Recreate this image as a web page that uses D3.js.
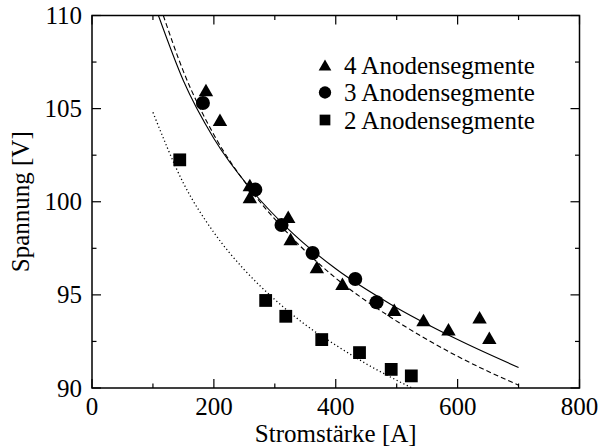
<!DOCTYPE html>
<html>
<head>
<meta charset="utf-8">
<script src="https://cdn.jsdelivr.net/npm/d3@7"></script>
<style>
  html, body { margin: 0; padding: 0; background: #fff; }
  svg { display: block; }
  text { font-family: "Liberation Serif", "Times New Roman", serif; fill: #000; }
</style>
</head>
<body>
<svg id="chart" width="605" height="448"></svg>
<script>
// Measured points: current I [A] and voltage U [V]
const seg4I = [187, 210, 259, 259, 322, 326, 369, 411, 496, 544, 585, 636, 652];
const seg4U = [106.0, 104.4, 100.9, 100.25, 99.2, 98.0, 96.5, 95.6, 94.2, 93.65, 93.15, 93.8, 92.7];
const seg3I = [182, 268, 311, 362, 432, 467];
const seg3U = [105.3, 100.65, 98.75, 97.25, 95.85, 94.6];
const seg2I = [144, 285, 318, 377, 439, 491, 524];
const seg2U = [102.25, 94.7, 93.85, 92.6, 91.9, 91.0, 90.65];

// Fitted characteristic curves (sampled)
const fit4I = [109, 150, 200, 260, 320, 400, 490, 600, 700];
const fit4U = [110, 106.5, 103.4, 100.7, 98.6, 96.4, 94.5, 92.6, 91.1];
const fit3I = [117, 150, 200, 260, 320, 400, 490, 600, 700];
const fit3U = [110, 107.0, 103.6, 100.65, 98.35, 95.9, 93.8, 91.7, 90.15];
const fit2I = [100, 150, 200, 250, 300, 350, 400, 450, 525];
const fit2U = [104.8, 101.0, 98.35, 96.35, 94.75, 93.4, 92.3, 91.3, 90.0];

// Axis ticks
const xMajor = [0, 200, 400, 600, 800];
const xMinor = [100, 300, 500, 700];
const yMajor = [90, 95, 100, 105, 110];
const yMinor = [92.5, 97.5, 102.5, 107.5];

const legendLabels = ["4 Anodensegmente", "3 Anodensegmente", "2 Anodensegmente"];

const svg = d3.select("#chart");
const x = d3.scaleLinear().domain([0, 800]).range([92, 579.5]);
const y = d3.scaleLinear().domain([90, 110]).range([388, 15.5]);
const [x0, x1] = x.range();
const [y0, y1] = y.range();

svg.append("defs").append("clipPath").attr("id", "plotClip")
  .append("rect").attr("x", x0).attr("y", y1).attr("width", x1 - x0).attr("height", y0 - y1);

// Triangle centred on its bounding box
const triangleBox = {
  draw(ctx, size) {
    const s = Math.sqrt(size * 4 / Math.sqrt(3));
    const h = s * Math.sqrt(3) / 2;
    ctx.moveTo(0, -h / 2);
    ctx.lineTo(s / 2, h / 2);
    ctx.lineTo(-s / 2, h / 2);
    ctx.closePath();
  }
};

// Fit curves
const line = d3.line().x(d => x(d[0])).y(d => y(d[1])).curve(d3.curveMonotoneX);
const curves = svg.append("g").attr("clip-path", "url(#plotClip)");
const zip = (a, b) => a.map((v, i) => [v, b[i]]);
curves.append("path").datum(zip(fit4I, fit4U)).attr("d", line)
  .attr("fill", "none").attr("stroke", "#000").attr("stroke-width", 1.1);
curves.append("path").datum(zip(fit3I, fit3U)).attr("d", line)
  .attr("fill", "none").attr("stroke", "#000").attr("stroke-width", 1.1)
  .attr("stroke-dasharray", "5,3");
curves.append("path").datum(zip(fit2I, fit2U)).attr("d", line)
  .attr("fill", "none").attr("stroke", "#000").attr("stroke-width", 1.3)
  .attr("stroke-dasharray", "1.2,2.6");

// Markers
const sym = {
  tri: d3.symbol().type(triangleBox).size(90),
  cir: d3.symbol().type(d3.symbolCircle).size(155),
  sq: d3.symbol().type(d3.symbolSquare).size(164)
};
const pts = svg.append("g");
pts.selectAll(".s4").data(zip(seg4I, seg4U)).join("path").attr("class", "s4")
  .attr("d", sym.tri).attr("transform", d => `translate(${x(d[0])},${y(d[1])})`);
pts.selectAll(".s3").data(zip(seg3I, seg3U)).join("path").attr("class", "s3")
  .attr("d", sym.cir).attr("transform", d => `translate(${x(d[0])},${y(d[1])})`);
pts.selectAll(".s2").data(zip(seg2I, seg2U)).join("path").attr("class", "s2")
  .attr("d", sym.sq).attr("transform", d => `translate(${x(d[0])},${y(d[1])})`);
pts.selectAll("path").attr("fill", "#000");

// Frame and ticks (inward on all four sides)
const axes = svg.append("g").attr("stroke", "#000").attr("fill", "none");
axes.append("rect").attr("x", x0).attr("y", y1).attr("width", x1 - x0).attr("height", y0 - y1)
  .attr("stroke-width", 1.5);
const tickLen = { major: 9, minor: 4.5 };
function xTicks(vals, len) {
  vals.forEach(v => {
    axes.append("line").attr("x1", x(v)).attr("x2", x(v)).attr("y1", y0).attr("y2", y0 - len).attr("stroke-width", 1.2);
    axes.append("line").attr("x1", x(v)).attr("x2", x(v)).attr("y1", y1).attr("y2", y1 + len).attr("stroke-width", 1.2);
  });
}
function yTicks(vals, len) {
  vals.forEach(v => {
    axes.append("line").attr("y1", y(v)).attr("y2", y(v)).attr("x1", x0).attr("x2", x0 + len).attr("stroke-width", 1.2);
    axes.append("line").attr("y1", y(v)).attr("y2", y(v)).attr("x1", x1).attr("x2", x1 - len).attr("stroke-width", 1.2);
  });
}
xTicks(xMajor, tickLen.major); xTicks(xMinor, tickLen.minor);
yTicks(yMajor, tickLen.major); yTicks(yMinor, tickLen.minor);

// Tick labels
const fs = 25;
svg.append("g").selectAll("text").data(xMajor).join("text")
  .attr("x", d => x(d)).attr("y", 415).attr("text-anchor", "middle")
  .attr("font-size", fs).text(d => d);
svg.append("g").selectAll("text").data(yMajor).join("text")
  .attr("x", 82).attr("y", d => y(d) + 8.5).attr("text-anchor", "end")
  .attr("font-size", fs).text(d => d);

// Axis titles
svg.append("text").attr("x", (x0 + x1) / 2).attr("y", 442).attr("text-anchor", "middle")
  .attr("font-size", fs).text("Stromstärke [A]");
svg.append("text").attr("transform", `translate(29,${(y0 + y1) / 2}) rotate(-90)`)
  .attr("text-anchor", "middle").attr("font-size", fs).text("Spannung [V]");

// Legend
const legend = svg.append("g");
const legendSym = [
  d3.symbol().type(triangleBox).size(70),
  d3.symbol().type(d3.symbolCircle).size(120),
  d3.symbol().type(d3.symbolSquare).size(115)
];
legendLabels.forEach((lab, i) => {
  const cy = 65 + i * 27.5;
  legend.append("path").attr("d", legendSym[i]).attr("transform", `translate(325,${cy})`).attr("fill", "#000");
  legend.append("text").attr("x", 344).attr("y", cy + 8.5).attr("font-size", fs).text(lab);
});
</script>
</body>
</html>
